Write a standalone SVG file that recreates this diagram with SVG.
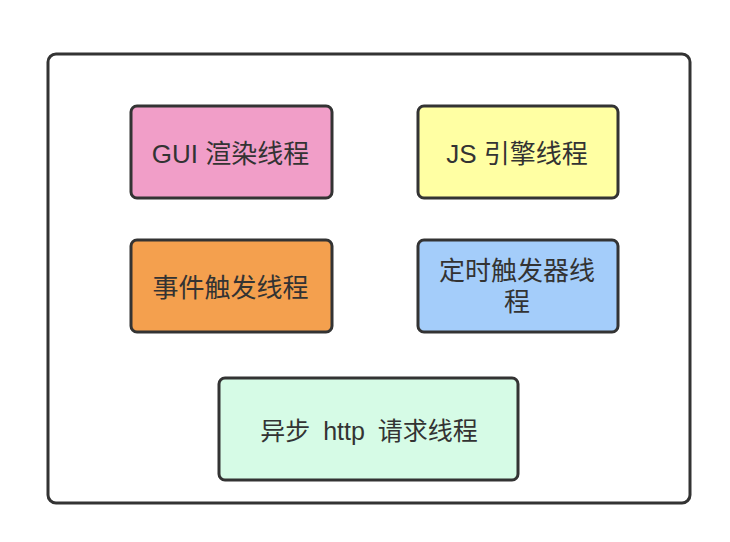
<svg xmlns="http://www.w3.org/2000/svg" width="730" height="542" viewBox="0 0 730 542">
<style>
.box{stroke:#333;stroke-width:3}
.t{font-family:"Liberation Sans","Noto Sans CJK SC",sans-serif;font-size:26px;fill:#333;text-anchor:middle}
.h{font-family:"Liberation Sans","Noto Sans CJK SC",sans-serif;font-size:25px;fill:#333;text-anchor:middle;word-spacing:6px}
</style>
<rect width="730" height="542" fill="#fff"/>
<g id="container"><rect x="48" y="54" width="642" height="449" rx="8" fill="#fff" stroke="#333" stroke-width="3"/></g>
<g id="gui"><rect class="box" x="131" y="106" width="201" height="92" rx="6" fill="#f19ec8"/><text class="t" x="230.5" y="163">GUI 渲染线程</text></g>
<g id="js"><rect class="box" x="418" y="106" width="200" height="92" rx="6" fill="#ffffa3"/><text class="t" x="517" y="163">JS 引擎线程</text></g>
<g id="event"><rect class="box" x="131" y="240" width="201" height="92" rx="6" fill="#f4a04e"/><text class="t" x="230.5" y="297">事件触发线程</text></g>
<g id="timer"><rect class="box" x="418" y="240" width="200" height="92" rx="6" fill="#a4cdfa"/><text class="t" x="517" y="280">定时触发器线</text><text class="t" x="517" y="311">程</text></g>
<g id="http"><rect class="box" x="219" y="378" width="299" height="102" rx="6" fill="#d6fbe6"/><text class="h" x="369" y="440">异步 http 请求线程</text></g>
<g id="connectors"/>
</svg>
